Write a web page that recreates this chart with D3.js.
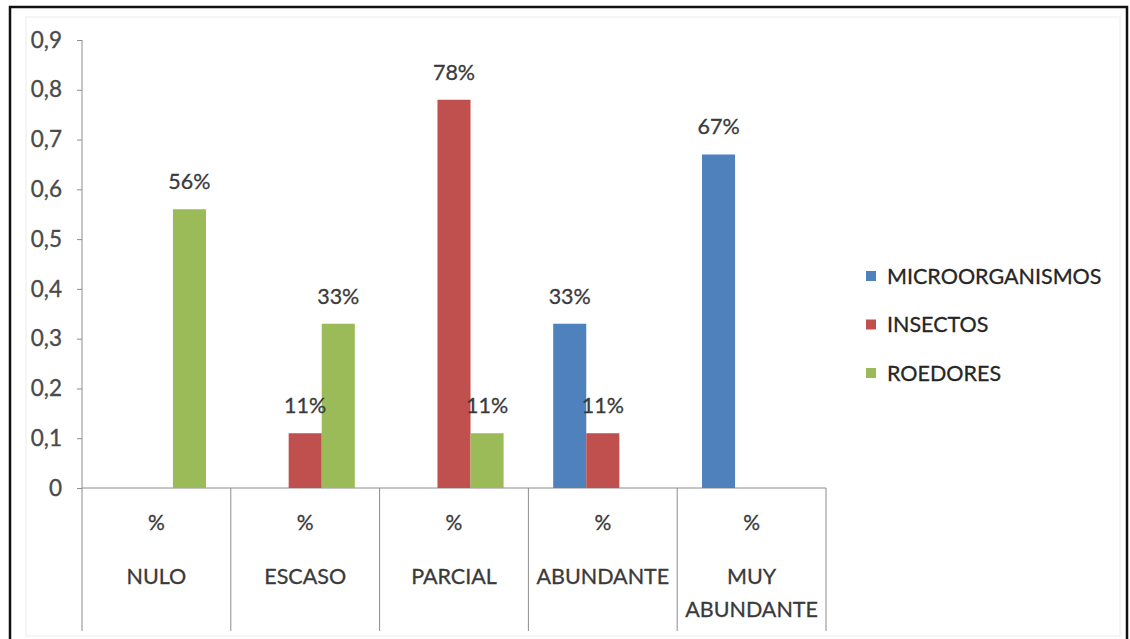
<!DOCTYPE html>
<html>
<head>
<meta charset="utf-8">
<script src="https://cdn.jsdelivr.net/npm/d3@7"></script>
<style>
  html, body { margin: 0; padding: 0; background: #fff; }
  svg { display: block; }
  text { font-family: Lato, "Open Sans", sans-serif; }
</style>
</head>
<body>
<svg id="chart" width="1130" height="639"></svg>
<script>
// Categories (two-line axis labels: "%" row and level name)
const categories = ["NULO", "ESCASO", "PARCIAL", "ABUNDANTE", "MUY ABUNDANTE"];
const categoryLines = [["NULO"], ["ESCASO"], ["PARCIAL"], ["ABUNDANTE"], ["MUY", "ABUNDANTE"]];
const seriesNames = ["MICROORGANISMOS", "INSECTOS", "ROEDORES"];
const seriesColors = ["#4F81BD", "#C0504D", "#9BBB59"];

// Proportions per series, one value per category
const microorganismos = [0, 0, 0, 0.33, 0.67];
const insectos = [0, 0.11, 0.78, 0.11, 0];
const roedores = [0.56, 0.33, 0.11, 0, 0];
const seriesValues = [microorganismos, insectos, roedores];

const yTicks = [0, 0.1, 0.2, 0.3, 0.4, 0.5, 0.6, 0.7, 0.8, 0.9];

const svg = d3.select("#chart");
const textColor = "#3a3a3a";

// Faint chart-area border and outer frame (open at the bottom edge)
svg.append("rect").attr("x", 26).attr("y", 17).attr("width", 1094).attr("height", 619)
  .attr("fill", "none").attr("stroke", "#ececec").attr("stroke-width", 1);
svg.append("path").attr("d", "M10,639 V7 H1127 V639")
  .attr("fill", "none").attr("stroke", "#111").attr("stroke-width", 2.5);

const plot = { left: 82, right: 826, top: 40, bottom: 488, axisBottom: 631 };

const x = d3.scaleBand().domain(categories).range([plot.left, plot.right]).padding(0);
const xs = d3.scaleBand().domain(seriesNames).range([0, x.bandwidth()])
  .paddingInner(0).paddingOuter(0.75);
const y = d3.scaleLinear().domain([0, 0.9]).range([plot.bottom, plot.top]);

const axisColor = "#8c8c8c";
const fmtTick = d => d === 0 ? "0" : d3.format(".1f")(d).replace(".", ",");

// Y axis
const yAxis = svg.append("g").attr("transform", `translate(${plot.left},0)`)
  .call(d3.axisLeft(y).tickValues(yTicks).tickSize(5).tickPadding(15).tickFormat(fmtTick));
yAxis.select(".domain").remove();
yAxis.selectAll(".tick line").attr("stroke", axisColor);
yAxis.selectAll(".tick text").attr("fill", "#4a4a4a").attr("font-size", 22.5)
  .attr("font-family", "Lato, sans-serif")
  .attr("stroke", "#4a4a4a").attr("stroke-width", 0.35);
svg.append("line").attr("x1", plot.left).attr("x2", plot.left)
  .attr("y1", plot.top).attr("y2", plot.axisBottom).attr("stroke", axisColor);

// X axis baseline and category separators
svg.append("line").attr("x1", plot.left).attr("x2", plot.right)
  .attr("y1", plot.bottom).attr("y2", plot.bottom).attr("stroke", axisColor);
const edges = categories.map(c => x(c) + x.bandwidth());
svg.selectAll(".sep").data(edges).join("line").attr("class", "sep")
  .attr("x1", d => d).attr("x2", d => d)
  .attr("y1", plot.bottom).attr("y2", plot.axisBottom).attr("stroke", axisColor);

// Category labels
const catG = svg.selectAll(".cat").data(categories).join("g").attr("class", "cat")
  .attr("transform", c => `translate(${x(c) + x.bandwidth() / 2},0)`);
catG.append("text").attr("y", 530).attr("text-anchor", "middle")
  .attr("font-size", 21).attr("fill", textColor).text("%");
catG.each(function (c, i) {
  d3.select(this).selectAll(".ln").data(categoryLines[i]).join("text").attr("class", "ln")
    .attr("y", (d, j) => 584 + j * 33).attr("text-anchor", "middle")
    .attr("font-size", 21.5).attr("fill", textColor).text(d => d);
});
svg.selectAll(".cat text").attr("stroke", textColor).attr("stroke-width", 0.3);

// Bars and value labels
const barData = [];
seriesNames.forEach((s, si) => {
  categories.forEach((c, ci) => {
    barData.push({ series: s, color: seriesColors[si], cat: c, value: seriesValues[si][ci] });
  });
});
const nonZero = barData.filter(d => d.value > 0);

svg.selectAll(".bar").data(nonZero).join("rect").attr("class", "bar")
  .attr("x", d => x(d.cat) + xs(d.series))
  .attr("width", xs.bandwidth())
  .attr("y", d => y(d.value))
  .attr("height", d => y(0) - y(d.value))
  .attr("fill", d => d.color);

svg.selectAll(".vlabel").data(nonZero).join("text").attr("class", "vlabel")
  .attr("x", d => x(d.cat) + xs(d.series) + xs.bandwidth() / 2)
  .attr("y", d => y(d.value) - 20)
  .attr("text-anchor", "middle").attr("font-size", 21.5).attr("fill", textColor)
  .attr("stroke", textColor).attr("stroke-width", 0.3)
  .text(d => d3.format(".0%")(d.value));

// Legend
const legend = svg.selectAll(".leg").data(seriesNames).join("g").attr("class", "leg")
  .attr("transform", (d, i) => `translate(866,${276 + i * 48.5})`);
legend.append("rect").attr("x", 0).attr("y", -5).attr("width", 10).attr("height", 10)
  .attr("fill", (d, i) => seriesColors[i]);
legend.append("text").attr("x", 21).attr("y", 7.5).attr("font-size", 21.5)
  .attr("fill", "#262626").attr("stroke", "#262626").attr("stroke-width", 0.3)
  .text(d => d);
</script>
</body>
</html>
